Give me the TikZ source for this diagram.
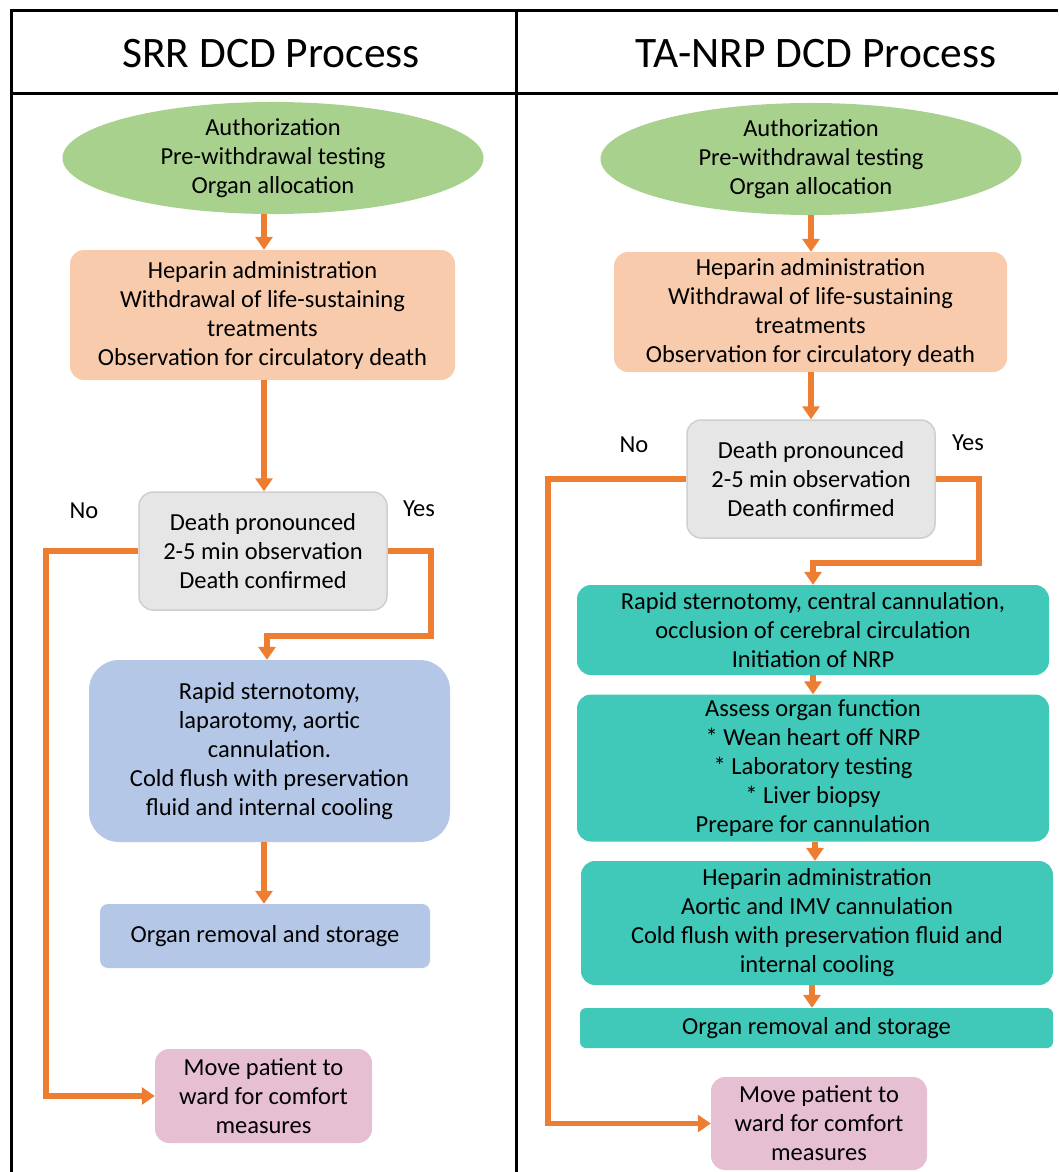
\documentclass[tikz,border=0pt]{standalone}
\usepackage{fontspec}
\setmainfont{Carlito}
\usetikzlibrary{arrows.meta,shapes.geometric,calc}
\definecolor{cgreen}{HTML}{A9D18E}
\definecolor{corange}{HTML}{F8CBAD}
\definecolor{cgrey}{HTML}{E7E6E6}
\definecolor{cgreyb}{HTML}{D0CECE}
\definecolor{cblue}{HTML}{B4C7E7}
\definecolor{cpink}{HTML}{E6BFD2}
\definecolor{cteal}{HTML}{40C8B8}
\definecolor{carrow}{HTML}{ED7D31}
\tikzset{
  txt/.style={font=\fontsize{24.5}{29}\selectfont, align=center, inner sep=0pt, text=black},
  ell/.style={txt, ellipse, fill=cgreen},
  rbox/.style={txt, rectangle, rounded corners=14pt},
  obox/.style={rbox, fill=corange},
  gbox/.style={rbox, fill=cgrey, draw=cgreyb, line width=1.5pt},
  bbox/.style={rbox, fill=cblue},
  pbox/.style={rbox, fill=cpink},
  tbox/.style={rbox, fill=cteal},
  conn/.style={draw=carrow, line width=5.5pt, -{Triangle[width=17pt,length=13pt]}},
  frame/.style={draw=black, line width=3pt},
  head/.style={font=\fontsize{43.5}{48}\selectfont, inner sep=0pt},
  lab/.style={font=\fontsize{24.5}{28}\selectfont, inner sep=0pt}
}
\begin{document}
\begin{tikzpicture}[x=1pt,y=-1pt]
\useasboundingbox (0,0) rectangle (1058,1172);
% table frame
\draw[frame] (10,11) -- (1058,11);
\draw[frame] (10,93) -- (1058,93);
\draw[frame] (11.5,10) -- (11.5,1172);
\draw[frame] (516.5,10) -- (516.5,1172);
\node[head] (h1) at (271,54) {SRR DCD Process};
\node[head] (h2) at (816,54) {TA-NRP DCD Process};

% ---------------- left column
\node[ell, minimum width=421pt, minimum height=108pt] (l1) at (273,158) {Authorization\\Pre-withdrawal testing\\Organ allocation};
\node[obox, minimum width=385pt, minimum height=130pt] (l2) at (262.5,315) {Heparin administration\\Withdrawal of life-sustaining\\treatments\\Observation for circulatory death};
\node[gbox, minimum width=248pt, minimum height=118pt] (l3) at (263,551) {Death pronounced\\2-5 min observation\\Death confirmed};
\node[bbox, rounded corners=30pt, minimum width=361pt, minimum height=182pt] (l4) at (269.5,751) {Rapid sternotomy,\\laparotomy, aortic\\cannulation.\\Cold flush with preservation\\fluid and internal cooling};
\node[bbox, rounded corners=8pt, minimum width=330pt, minimum height=64pt] (l5) at (265,936) {Organ removal and storage};
\node[pbox, minimum width=217pt, minimum height=94pt] (l6) at (263.5,1096) {Move patient to\\ward for comfort\\measures};
\node[lab] (lno) at (84,511) {No};
\node[lab] (lyes) at (419,509) {Yes};

\draw[conn] (l1.south -| 264,0) -- (l2.north -| 264,0);
\draw[conn] (l2.south -| 264,0) -- (l3.north -| 264,0);
\coordinate (lna) at (46,551);
\draw[conn] (l3.west) -- (lna) |- (l6.west);
\coordinate (lya) at (431,551);
\coordinate (lyb) at (431,636);
\draw[conn] (l3.east) -- (lya) -- (lyb) -| ($(l4.north)+(-2.5,0)$);
\draw[conn] (l4.south -| 264,0) -- (l5.north -| 264,0);

% ---------------- right column
\node[ell, minimum width=421pt, minimum height=110pt] (r1) at (811,159) {Authorization\\Pre-withdrawal testing\\Organ allocation};
\node[obox, minimum width=393pt, minimum height=120pt] (r2) at (810.5,312) {Heparin administration\\Withdrawal of life-sustaining\\treatments\\Observation for circulatory death};
\node[gbox, minimum width=248pt, minimum height=118pt] (r3) at (811,479) {Death pronounced\\2-5 min observation\\Death confirmed};
\node[tbox, minimum width=472pt, minimum height=90pt] (r4) at (813,630) {Rapid sternotomy, central cannulation,\\occlusion of cerebral circulation\\Initiation of NRP};
\node[tbox, minimum width=472pt, minimum height=147pt] (r5) at (813,768) {Assess organ function\\* Wean heart off NRP\\* Laboratory testing\\* Liver biopsy\\Prepare for cannulation};
\node[tbox, minimum width=472pt, minimum height=124pt] (r6) at (817,923) {Heparin administration\\Aortic and IMV cannulation\\Cold flush with preservation fluid and\\internal cooling};
\node[tbox, rounded corners=6pt, minimum width=473pt, minimum height=40pt] (r7) at (816.5,1028) {Organ removal and storage};
\node[pbox, minimum width=216pt, minimum height=93pt] (r8) at (819,1123.5) {Move patient to\\ward for comfort\\measures};
\node[lab] (rno) at (634,445) {No};
\node[lab] (ryes) at (968,443) {Yes};

\draw[conn] (r1.south -| 811,0) -- (r2.north -| 811,0);
\draw[conn] (r2.south -| 811,0) -- (r3.north -| 811,0);
\coordinate (rna) at (548,479);
\draw[conn] (r3.west) -- (rna) |- (r8.west);
\coordinate (rya) at (979,479);
\coordinate (ryb) at (979,563);
\draw[conn] (r3.east) -- (rya) -- (ryb) -| (r4.north);
\draw[conn] (r4.south -| 813,0) -- (r5.north -| 813,0);
\draw[conn] (r5.south -| 815,0) -- (r6.north -| 815,0);
\draw[conn] (r6.south -| 812,0) -- (r7.north -| 812,0);
\end{tikzpicture}
\end{document}
